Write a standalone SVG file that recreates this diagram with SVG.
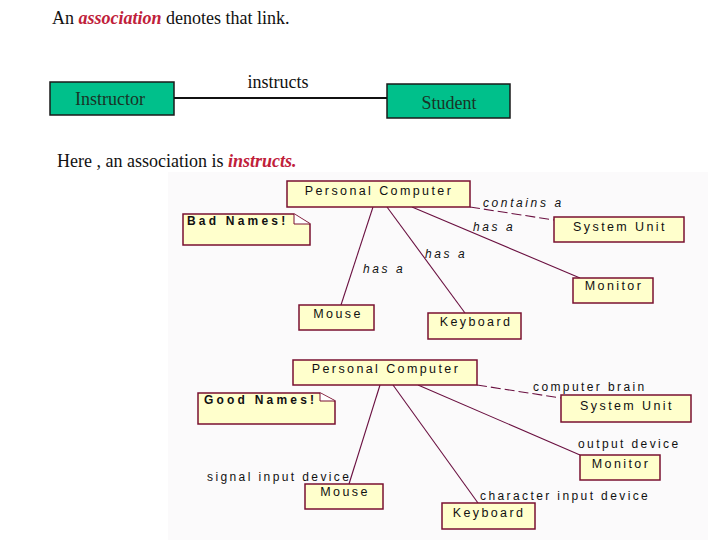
<svg xmlns="http://www.w3.org/2000/svg" width="720" height="540" viewBox="0 0 720 540">
<style>
.t{font-family:"Liberation Serif","Times New Roman",serif;font-size:18px;fill:#111}
.red{fill:#c0203a;font-weight:bold;font-style:italic}
.gbox{fill:#00c08b;stroke:#1a1a1a;stroke-width:1.5}
.gt{font-family:"Liberation Serif",serif;font-size:18px;fill:#1a3326;text-anchor:middle}
.box{fill:#ffffcc;stroke:#7a1030;stroke-width:1.5}
.bt{font-family:"Liberation Sans",Arial,sans-serif;font-size:12.5px;letter-spacing:2.4px;fill:#111;text-anchor:middle}
.lab{font-family:"Liberation Sans",Arial,sans-serif;font-size:12px;letter-spacing:2.4px;fill:#111}
.it{font-style:italic;letter-spacing:2.6px}
.nt{font-family:"Liberation Sans",Arial,sans-serif;font-size:12px;font-weight:bold;letter-spacing:3.2px;fill:#111}
.ln{stroke:#6a1040;stroke-width:1.1;fill:none}
.dash{stroke-dasharray:10 4}
</style>
<rect width="720" height="540" fill="#ffffff"/>
<rect x="168" y="172" width="540" height="368" fill="#fbfafb"/>
<text class="t" x="52" y="24">An <tspan class="red">association</tspan> denotes that link.</text>
<g id="instructor"><rect class="gbox" x="50" y="82" width="124" height="33"/><text class="gt" x="110" y="105">Instructor</text></g>
<g id="student"><rect class="gbox" x="387" y="84" width="123" height="34"/><text class="gt" x="449" y="109">Student</text></g>
<text class="t" x="57" y="167">Here , an association is <tspan class="red">instructs.</tspan></text>
<g id="connectors">
<line x1="174" y1="98" x2="387" y2="98" stroke="#111" stroke-width="2"/>
<text class="t" x="278" y="88" text-anchor="middle">instructs</text>
<line class="ln" x1="373" y1="207" x2="341" y2="305"/>
<line class="ln" x1="387" y1="207" x2="465" y2="313"/>
<line class="ln" x1="412" y1="207" x2="580" y2="278"/>
<line class="ln dash" x1="470" y1="207" x2="554" y2="220"/>
<text class="lab it" x="483" y="207">contains a</text>
<text class="lab it" x="473" y="231">has a</text>
<text class="lab it" x="425" y="258">has a</text>
<text class="lab it" x="363" y="273">has a</text>
<line class="ln" x1="380" y1="385" x2="349" y2="484"/>
<line class="ln" x1="393" y1="385" x2="478" y2="503"/>
<line class="ln" x1="418" y1="385" x2="580" y2="455"/>
<line class="ln dash" x1="477" y1="385" x2="561" y2="398"/>
<text class="lab" x="533" y="391">computer brain</text>
<text class="lab" x="578" y="448">output device</text>
<text class="lab" x="207" y="481">signal input device</text>
<text class="lab" x="480" y="500">character input device</text>
</g>
<g id="pc1"><rect class="box" x="287" y="181" width="183" height="26"/><text class="bt" x="379" y="195">Personal Computer</text></g>
<g id="badnames"><path class="box" d="M183 214H294L310 224V245H183Z"/><path d="M294 214V224H310" fill="#fff" stroke="#7a1030" stroke-width="1"/><text class="nt" x="187" y="225">Bad Names!</text></g>
<g id="su1"><rect class="box" x="554" y="217" width="130" height="25"/><text class="bt" x="620" y="231">System Unit</text></g>
<g id="mon1"><rect class="box" x="573" y="278" width="80" height="25"/><text class="bt" x="614" y="290">Monitor</text></g>
<g id="mouse1"><rect class="box" x="299" y="305" width="75" height="25"/><text class="bt" x="338" y="318">Mouse</text></g>
<g id="kb1"><rect class="box" x="428" y="313" width="93" height="26"/><text class="bt" x="476" y="326">Keyboard</text></g>
<g id="pc2"><rect class="box" x="293" y="360" width="184" height="25"/><text class="bt" x="386" y="373">Personal Computer</text></g>
<g id="goodnames"><path class="box" d="M198 393H320L335 401V424H198Z"/><path d="M320 393V401H335" fill="#fff" stroke="#7a1030" stroke-width="1"/><text class="nt" x="204" y="404">Good Names!</text></g>
<g id="su2"><rect class="box" x="561" y="395" width="130" height="27"/><text class="bt" x="627" y="410">System Unit</text></g>
<g id="mon2"><rect class="box" x="580" y="455" width="80" height="25"/><text class="bt" x="621" y="468">Monitor</text></g>
<g id="mouse2"><rect class="box" x="305" y="484" width="78" height="25"/><text class="bt" x="345" y="496">Mouse</text></g>
<g id="kb2"><rect class="box" x="442" y="503" width="93" height="26"/><text class="bt" x="489" y="517">Keyboard</text></g>
</svg>
